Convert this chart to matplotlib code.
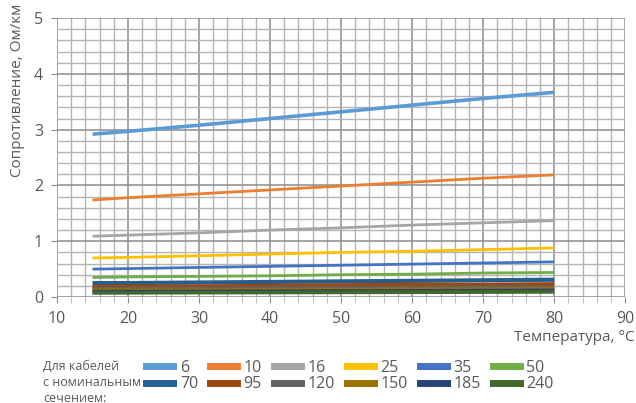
import matplotlib
matplotlib.use("Agg")
import matplotlib.pyplot as plt
from matplotlib.ticker import MultipleLocator
from matplotlib.lines import Line2D

plt.rcParams["font.family"] = ["Open Sans", "DejaVu Sans"]

# temperature points, deg C
temps = [15, 20, 30, 40, 50, 60, 70, 80]

# cable sections, mm2
sections = ["6", "10", "16", "25", "35", "50", "70", "95", "120", "150", "185", "240"]

# resistance, Ohm/km
r6 = [2.92, 2.97, 3.08, 3.20, 3.32, 3.44, 3.56, 3.67]
r10 = [1.74, 1.78, 1.85, 1.92, 1.99, 2.06, 2.13, 2.19]
r16 = [1.09, 1.11, 1.15, 1.20, 1.24, 1.29, 1.33, 1.37]
r25 = [0.70, 0.71, 0.74, 0.77, 0.80, 0.82, 0.85, 0.88]
r35 = [0.50, 0.51, 0.53, 0.55, 0.57, 0.59, 0.61, 0.63]
r50 = [0.35, 0.36, 0.37, 0.38, 0.40, 0.41, 0.43, 0.44]
r70 = [0.25, 0.25, 0.26, 0.27, 0.28, 0.29, 0.30, 0.31]
r95 = [0.18, 0.19, 0.19, 0.20, 0.21, 0.22, 0.22, 0.23]
r120 = [0.15, 0.15, 0.15, 0.16, 0.16, 0.17, 0.18, 0.18]
r150 = [0.12, 0.12, 0.12, 0.13, 0.13, 0.14, 0.14, 0.15]
r185 = [0.095, 0.097, 0.100, 0.104, 0.107, 0.110, 0.115, 0.119]
r240 = [0.073, 0.075, 0.078, 0.080, 0.083, 0.085, 0.088, 0.092]

series = [r6, r10, r16, r25, r35, r50, r70, r95, r120, r150, r185, r240]
colors = ["#5B9BD5", "#ED7D31", "#A5A5A5", "#FFC000", "#4472C4", "#70AD47",
          "#255E91", "#9E480E", "#636363", "#997300", "#264478", "#43682B"]
widths = [2.6, 2.0, 2.0, 2.0, 2.0, 2.0, 3.0, 3.0, 2.6, 2.6, 2.6, 2.6]

txt = "#595959"
major_c = "#8c8c8c"
minor_c = "#b4b4b4"

fig = plt.figure(figsize=(6.36, 4.03), dpi=100)
ax = fig.add_axes([0.0896, 0.263, 0.8934, 0.692])

for vals, c, lw in zip(series, colors, widths):
    ax.plot(temps, vals, color=c, lw=lw, solid_capstyle="butt", zorder=3)

ax.set_xlim(10, 90)
ax.set_ylim(0, 5)
ax.xaxis.set_major_locator(MultipleLocator(10))
ax.xaxis.set_minor_locator(MultipleLocator(2))
ax.yaxis.set_major_locator(MultipleLocator(1))
ax.yaxis.set_minor_locator(MultipleLocator(0.2))
ax.grid(which="major", color=major_c, lw=1.1, zorder=0)
ax.grid(which="minor", color=minor_c, lw=1.0, zorder=0)
for s in ax.spines.values():
    s.set_visible(False)
ax.tick_params(axis="both", which="major", colors=major_c, labelcolor=txt,
               labelsize=11.5, length=4)
ax.tick_params(axis="x", which="major", pad=6)
ax.tick_params(axis="y", which="major", pad=6)
ax.tick_params(axis="x", which="minor", colors=minor_c, length=4)
ax.tick_params(axis="y", which="minor", length=0)

fig.text(0.028, 0.775, "Сопротивление, Ом/км", rotation=90, ha="center",
         va="center", fontsize=11, color=txt)
fig.text(0.998, 0.163, "Температура, °C", ha="right", va="center",
         fontsize=11, color=txt)

fig.text(0.068, 0.052, "Для кабелей\nс номинальным\nсечением:", ha="left",
         va="center", fontsize=9.0, color=txt, linespacing=1.3)

# legend filled column-wise: 2 rows x 6 columns
handles = [Line2D([], [], color=c, lw=5) for c in colors]
order = []
for col in range(6):
    order += [col, col + 6]
fig.legend([handles[i] for i in order], [sections[i] for i in order],
           ncol=6, loc="center left", bbox_to_anchor=(0.230, 0.067),
           frameon=False, fontsize=11.5, labelcolor=txt, handlelength=1.7,
           handletextpad=0.4, columnspacing=0.75, labelspacing=0.05,
           borderpad=0, borderaxespad=0)

fig.savefig("out.png", dpi=100)
